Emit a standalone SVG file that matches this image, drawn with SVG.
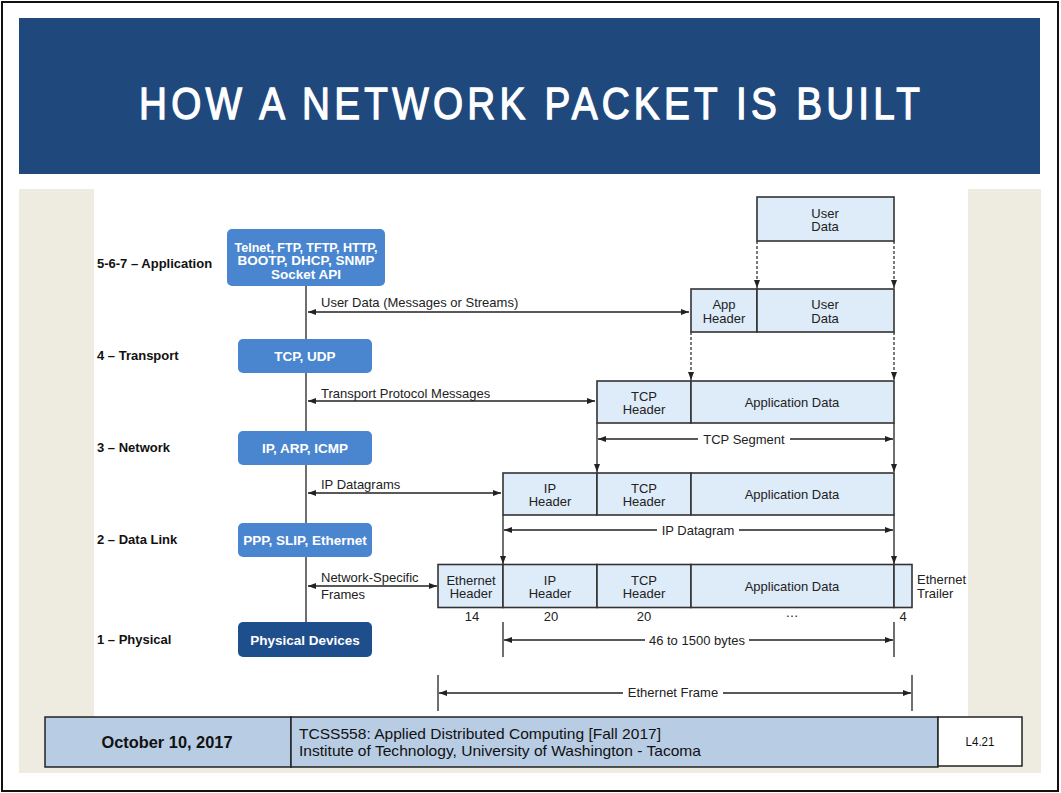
<svg xmlns="http://www.w3.org/2000/svg" width="1061" height="793" viewBox="0 0 1061 793">
<defs>
<style>
.lay{font-family:"Liberation Sans",Arial,sans-serif;font-size:13px;font-weight:bold;fill:#111}
.bt{font-family:"Liberation Sans",Arial,sans-serif;font-size:13.5px;font-weight:bold;fill:#fff;text-anchor:middle}
.pt{font-family:"Liberation Sans",Arial,sans-serif;font-size:13px;fill:#222;text-anchor:middle}
.lt{font-family:"Liberation Sans",Arial,sans-serif;font-size:13px;fill:#222}
.pk{fill:#deebf8;stroke:#333;stroke-width:1.6}
.bb{fill:#4a86cf}
.ln{stroke:#222;stroke-width:1.3;fill:none}
.ds{stroke:#333;stroke-width:1.3;fill:none;stroke-dasharray:3 2}
.ft{font-family:"Liberation Sans Narrow","Liberation Sans",Arial,sans-serif;fill:#111}
</style>
<marker id="ah" viewBox="0 0 8 8" refX="8" refY="4" markerWidth="8" markerHeight="8" orient="auto-start-reverse" markerUnits="userSpaceOnUse"><path d="M0,1 L8,4 L0,7 z" fill="#222"/></marker>
</defs>

<!-- page frame -->
<rect x="0" y="0" width="1061" height="793" fill="#fff"/>
<rect x="2" y="2" width="1056" height="789" fill="none" stroke="#111" stroke-width="2"/>
<g id="title">
<rect x="19" y="18" width="1021" height="156" fill="#1f497d"/>
<text transform="translate(139,119) scale(0.86,1)" x="0" y="0" textLength="908" lengthAdjust="spacing" font-family="Liberation Sans,Arial,sans-serif" font-size="45" fill="#fff" stroke="#fff" stroke-width="1.3">HOW A NETWORK PACKET IS BUILT</text>
</g>
<rect x="19" y="189" width="1022" height="584" fill="#eeece1"/>
<rect x="94" y="189" width="874" height="528" fill="#fff"/>

<!-- layer labels -->
<g id="layer-labels">
<text class="lay" x="97" y="268">5-6-7 – Application</text>
<text class="lay" x="97" y="360">4 – Transport</text>
<text class="lay" x="97" y="452">3 – Network</text>
<text class="lay" x="97" y="544">2 – Data Link</text>
<text class="lay" x="97" y="644">1 – Physical</text>
</g>

<!-- connectors -->
<g id="connectors">
<line class="ln" x1="306" y1="285" x2="306" y2="622" stroke-width="1.5"/>
<line class="ln" x1="308" y1="312" x2="689" y2="312" marker-start="url(#ah)" marker-end="url(#ah)"/>
<line class="ln" x1="308" y1="401" x2="595" y2="401" marker-start="url(#ah)" marker-end="url(#ah)"/>
<line class="ln" x1="308" y1="493" x2="501" y2="493" marker-start="url(#ah)" marker-end="url(#ah)"/>
<line class="ln" x1="308" y1="586" x2="437" y2="586" marker-start="url(#ah)" marker-end="url(#ah)"/>
<!-- dashed -->
<line class="ds" x1="757" y1="241" x2="757" y2="288" marker-end="url(#ah)"/>
<line class="ds" x1="894" y1="241" x2="894" y2="288" marker-end="url(#ah)"/>
<line class="ds" x1="691" y1="332" x2="691" y2="380" marker-end="url(#ah)"/>
<line class="ds" x1="894" y1="332" x2="894" y2="380" marker-end="url(#ah)"/>
<!-- solid vertical -->
<line class="ln" x1="597" y1="423" x2="597" y2="472" marker-end="url(#ah)"/>
<line class="ln" x1="894" y1="423" x2="894" y2="472" marker-end="url(#ah)"/>
<line class="ln" x1="503" y1="515" x2="503" y2="564" marker-end="url(#ah)"/>
<line class="ln" x1="894" y1="515" x2="894" y2="564" marker-end="url(#ah)"/>
<!-- TCP segment -->
<line class="ln" x1="598" y1="439" x2="698" y2="439" marker-start="url(#ah)"/>
<line class="ln" x1="790" y1="439" x2="893" y2="439" marker-end="url(#ah)"/>
<!-- IP datagram -->
<line class="ln" x1="504" y1="530" x2="657" y2="530" marker-start="url(#ah)"/>
<line class="ln" x1="739" y1="530" x2="893" y2="530" marker-end="url(#ah)"/>
<!-- 46 to 1500 -->
<line class="ln" x1="503" y1="622" x2="503" y2="657"/>
<line class="ln" x1="894" y1="622" x2="894" y2="657"/>
<line class="ln" x1="504" y1="640" x2="645" y2="640" marker-start="url(#ah)"/>
<line class="ln" x1="749" y1="640" x2="893" y2="640" marker-end="url(#ah)"/>
<!-- Ethernet frame -->
<line class="ln" x1="438" y1="675" x2="438" y2="711"/>
<line class="ln" x1="912" y1="675" x2="912" y2="711"/>
<line class="ln" x1="439" y1="693" x2="623" y2="693" marker-start="url(#ah)"/>
<line class="ln" x1="723" y1="693" x2="911" y2="693" marker-end="url(#ah)"/>
</g>

<g id="connector-labels">
<text class="lt" x="321" y="307">User Data (Messages or Streams)</text>
<text class="lt" x="321" y="398">Transport Protocol Messages</text>
<text class="lt" x="321" y="489">IP Datagrams</text>
<text class="lt" x="321" y="582">Network-Specific</text>
<text class="lt" x="321" y="599">Frames</text>
<text class="pt" x="744" y="444">TCP Segment</text>
<text class="pt" x="698" y="535">IP Datagram</text>
<text class="pt" x="697" y="645">46 to 1500 bytes</text>
<text class="pt" x="673" y="697">Ethernet Frame</text>
</g>

<!-- protocol boxes -->
<g id="app-box">
<rect class="bb" x="227" y="229" width="158" height="57" rx="5"/>
<text class="bt" x="306" y="251.5" font-size="12.5" textLength="143" lengthAdjust="spacingAndGlyphs">Telnet, FTP, TFTP, HTTP,</text>
<text class="bt" x="306" y="265" font-size="12.5">BOOTP, DHCP, SNMP</text>
<text class="bt" x="306" y="278.5" font-size="12.5">Socket API</text>
</g>
<g id="transport-box">
<rect class="bb" x="238" y="339" width="134" height="34" rx="5"/>
<text class="bt" x="305" y="361">TCP, UDP</text>
</g>
<g id="network-box">
<rect class="bb" x="238" y="431" width="134" height="34" rx="5"/>
<text class="bt" x="305" y="453">IP, ARP, ICMP</text>
</g>
<g id="datalink-box">
<rect class="bb" x="238" y="523" width="134" height="34" rx="5"/>
<text class="bt" x="305" y="545">PPP, SLIP, Ethernet</text>
</g>
<g id="physical-box">
<rect x="238" y="622" width="134" height="35" rx="5" fill="#1f4e8c"/>
<text class="bt" x="305" y="644.5">Physical Devices</text>
</g>

<!-- packet rows -->
<g id="row-user">
<rect class="pk" x="757" y="197" width="137" height="44"/>
<text class="pt" x="825" y="217.5">User</text>
<text class="pt" x="825" y="231">Data</text>
</g>
<g id="row-app">
<rect class="pk" x="691" y="289" width="66" height="43"/>
<rect class="pk" x="757" y="289" width="137" height="43"/>
<text class="pt" x="724" y="309">App</text>
<text class="pt" x="724" y="322.5">Header</text>
<text class="pt" x="825" y="309">User</text>
<text class="pt" x="825" y="322.5">Data</text>
</g>
<g id="row-tcp">
<rect class="pk" x="597" y="381" width="94" height="42"/>
<rect class="pk" x="691" y="381" width="203" height="42"/>
<text class="pt" x="644" y="400.5">TCP</text>
<text class="pt" x="644" y="414">Header</text>
<text class="pt" x="792" y="407">Application Data</text>
</g>
<g id="row-ip">
<rect class="pk" x="503" y="473" width="94" height="42"/>
<rect class="pk" x="597" y="473" width="94" height="42"/>
<rect class="pk" x="691" y="473" width="203" height="42"/>
<text class="pt" x="550" y="492.5">IP</text>
<text class="pt" x="550" y="506">Header</text>
<text class="pt" x="644" y="492.5">TCP</text>
<text class="pt" x="644" y="506">Header</text>
<text class="pt" x="792" y="499">Application Data</text>
</g>
<g id="row-eth">
<rect class="pk" x="438" y="564.5" width="65" height="43"/>
<rect class="pk" x="503" y="564.5" width="94" height="43"/>
<rect class="pk" x="597" y="564.5" width="94" height="43"/>
<rect class="pk" x="691" y="564.5" width="203" height="43"/>
<rect class="pk" x="894" y="564.5" width="18" height="43"/>
<text class="pt" x="471" y="584.5">Ethernet</text>
<text class="pt" x="471" y="598">Header</text>
<text class="pt" x="550" y="584.5">IP</text>
<text class="pt" x="550" y="598">Header</text>
<text class="pt" x="644" y="584.5">TCP</text>
<text class="pt" x="644" y="598">Header</text>
<text class="pt" x="792" y="591">Application Data</text>
<text class="lt" x="917" y="584">Ethernet</text>
<text class="lt" x="917" y="597.5">Trailer</text>
<text class="pt" x="472" y="621">14</text>
<text class="pt" x="551" y="621">20</text>
<text class="pt" x="644" y="621">20</text>
<text class="pt" x="792" y="617" font-size="10" fill="#666">…</text>
<text class="pt" x="903" y="621">4</text>
</g>

<!-- footer -->
<g id="footer">
<rect x="45" y="717" width="246" height="50" fill="#b8cce4" stroke="#222" stroke-width="1.5"/>
<rect x="291" y="717" width="647" height="50" fill="#b8cce4" stroke="#222" stroke-width="1.5"/>
<rect x="938" y="717" width="84" height="49" fill="#fff" stroke="#222" stroke-width="1.5"/>
<text class="ft" x="167" y="748" text-anchor="middle" font-size="16" font-weight="bold" textLength="131" lengthAdjust="spacingAndGlyphs">October 10, 2017</text>
<text class="ft" x="299" y="739" font-size="14.5" textLength="362" lengthAdjust="spacingAndGlyphs">TCSS558: Applied Distributed Computing [Fall 2017]</text>
<text class="ft" x="299" y="756" font-size="14.5" textLength="402" lengthAdjust="spacingAndGlyphs">Institute of Technology, University of Washington - Tacoma</text>
<text class="ft" x="980" y="746" text-anchor="middle" font-size="12" textLength="29" lengthAdjust="spacingAndGlyphs">L4.21</text>
</g>
</svg>
